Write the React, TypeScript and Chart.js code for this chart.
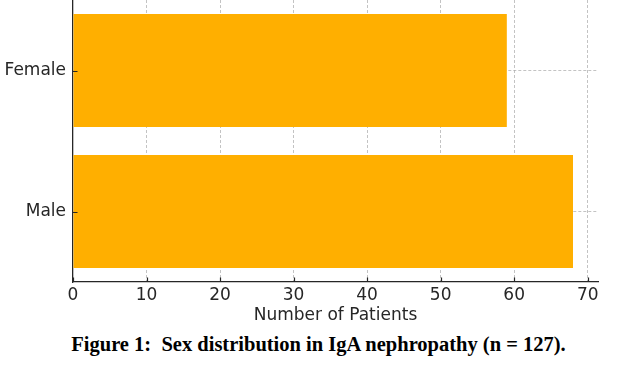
import React, { useEffect, useRef } from "react";
import { Chart, registerables } from "chart.js";

Chart.register(...registerables);

const categories = ["Female", "Male"];
const patients = [59, 68];
const xTicks = [0, 10, 20, 30, 40, 50, 60, 70];
const xMax = 71.4;
const axisTitle = "Number of Patients";
const caption = "Figure 1:  Sex distribution in IgA nephropathy (n = 127).";

const inwardTicks = {
  id: "inwardTicks",
  afterDraw(chart: any) {
    const ctx = chart.ctx;
    const x = chart.scales.x;
    const y = chart.scales.y;
    const area = chart.chartArea;
    ctx.save();
    ctx.setLineDash([]);
    ctx.strokeStyle = "#262626";
    ctx.lineWidth = 1.2;
    ctx.beginPath();
    x.ticks.forEach((_t: any, i: number) => {
      const px = Math.round(x.getPixelForTick(i)) + 0.5;
      ctx.moveTo(px, area.bottom);
      ctx.lineTo(px, area.bottom - 4.5);
    });
    y.ticks.forEach((_t: any, i: number) => {
      const py = Math.round(y.getPixelForTick(i)) + 0.5;
      ctx.moveTo(area.left, py);
      ctx.lineTo(area.left + 4.5, py);
    });
    ctx.stroke();
    ctx.restore();
  },
};

export default function App() {
  const ref = useRef<HTMLCanvasElement | null>(null);
  useEffect(() => {
    if (!ref.current) return;
    const font = { family: "DejaVu Sans", size: 17 };
    const chart = new Chart(ref.current, {
      type: "bar",
      data: {
        labels: categories,
        datasets: [
          {
            data: patients,
            backgroundColor: "#FFAF00",
            borderWidth: 0,
            categoryPercentage: 0.8,
            barPercentage: 1,
          },
        ],
      },
      options: {
        indexAxis: "y",
        animation: false,
        responsive: false,
        maintainAspectRatio: false,
        layout: { padding: { left: 0, right: 19, top: 0, bottom: 0 } },
        plugins: { legend: { display: false }, tooltip: { enabled: false } },
        scales: {
          x: {
            type: "linear",
            min: 0,
            max: xMax,
            z: 1,
            afterBuildTicks: (s: any) => {
              s.ticks = xTicks.map((v) => ({ value: v }));
            },
            afterFit: (s: any) => {
              s.height = 48;
            },
            grid: {
              color: (c: any) => (c.tick && c.tick.value === 0 ? "rgba(0,0,0,0)" : "rgba(170,170,170,0.7)"),
              lineWidth: 1,
              drawTicks: false,
            },
            border: { display: true, color: "#262626", width: 1.3, dash: [3, 2] },
            ticks: { font, color: "#262626", padding: 3, maxRotation: 0 },
            title: {
              display: true,
              text: axisTitle,
              font,
              color: "#262626",
              padding: { top: 0, bottom: 4 },
            },
          },
          y: {
            type: "category",
            z: 1,
            afterFit: (s: any) => {
              s.width = 73;
              s.paddingTop = 0;
              s.paddingBottom = 0;
            },
            grid: {
              offset: false,
              color: "rgba(170,170,170,0.7)",
              lineWidth: 1,
              drawTicks: false,
            },
            border: { display: true, color: "#262626", width: 1.3, dash: [3, 2] },
            ticks: { font, color: "#262626", padding: 7 },
          },
        },
      },
      plugins: [inwardTicks],
    } as any);
    return () => chart.destroy();
  }, []);

  return (
    <div style={{ position: "absolute", left: 0, top: 0, width: 617, height: 369, background: "#fff" }}>
      <canvas ref={ref} width={617} height={330} style={{ display: "block" }} />
      <div
        style={{
          position: "absolute",
          left: 0,
          width: 637,
          top: 332,
          textAlign: "center",
          fontFamily: "'Liberation Serif', 'Times New Roman', serif",
          fontWeight: "bold",
          fontSize: 20.5,
          color: "#000",
          whiteSpace: "pre",
          lineHeight: "24px",
        }}
      >
        {caption}
      </div>
    </div>
  );
}
